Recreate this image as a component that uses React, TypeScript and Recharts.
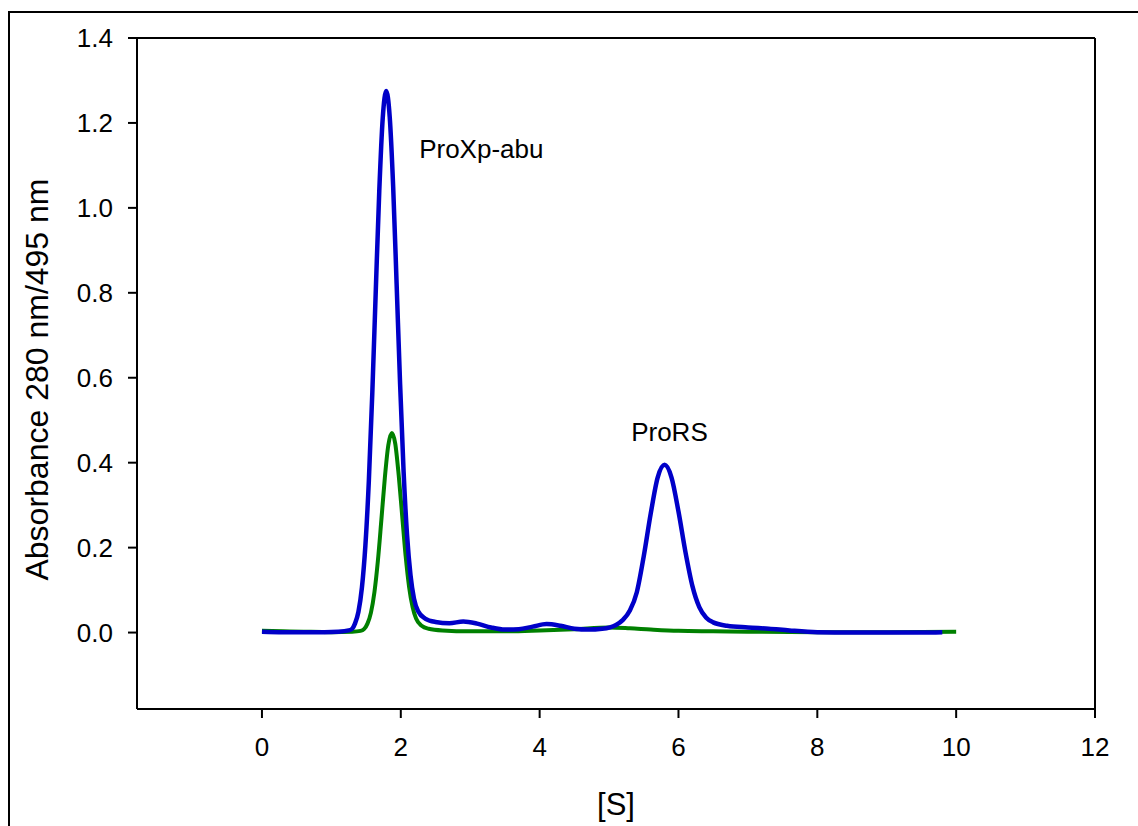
import { Label, Line, LineChart, ReferenceDot, ReferenceLine, XAxis, YAxis } from 'recharts';

// elution position [S] and absorbance
const blueS = [
  0, 0.3, 0.6, 0.9, 1.1, 1.25, 1.3, 1.34, 1.39, 1.44, 1.49, 1.54, 1.59, 1.64, 1.69, 1.74, 1.79,
  1.84, 1.89, 1.94, 1.99, 2.04, 2.09, 2.14, 2.19, 2.25, 2.35, 2.5, 2.7, 2.9, 3.1, 3.3, 3.5, 3.7,
  3.9, 4.1, 4.3, 4.5, 4.7, 4.9, 5.1, 5.2, 5.3, 5.4, 5.5, 5.6, 5.7, 5.8, 5.9, 6.0, 6.1, 6.2, 6.3,
  6.4, 6.5, 6.7, 7.0, 7.3, 7.6, 8.0, 8.5, 9.0, 9.5, 9.8,
];
const blueAbs = [
  0.002, 0.001, 0.001, 0.001, 0.002, 0.005, 0.009, 0.021, 0.049, 0.106, 0.205, 0.358, 0.566,
  0.807, 1.04, 1.212, 1.275, 1.215, 1.05, 0.82, 0.585, 0.38, 0.23, 0.135, 0.08, 0.05, 0.033,
  0.025, 0.022, 0.026, 0.021, 0.012, 0.007, 0.008, 0.014, 0.02, 0.016, 0.009, 0.007, 0.009,
  0.018, 0.03, 0.052, 0.095, 0.18, 0.28, 0.365, 0.395, 0.365, 0.285, 0.19, 0.11, 0.06, 0.035,
  0.024, 0.016, 0.012, 0.009, 0.005, 0.001, 0, 0, 0, 0.001,
];

const greenS = [
  0, 0.3, 0.6, 1.0, 1.3, 1.42, 1.47, 1.52, 1.57, 1.62, 1.67, 1.72, 1.77, 1.82, 1.87, 1.92, 1.97,
  2.02, 2.07, 2.12, 2.17, 2.22, 2.3, 2.4, 2.6, 3.0, 3.5, 4.0, 4.5, 5.0, 5.3, 5.6, 6.0, 6.5, 7.0,
  8.0, 9.0, 10.0,
];
const greenAbs = [
  0.004, 0.003, 0.002, 0.001, 0.002, 0.004, 0.008, 0.021, 0.047, 0.095, 0.169, 0.265, 0.364,
  0.441, 0.47, 0.445, 0.37, 0.275, 0.18, 0.107, 0.06, 0.033, 0.016, 0.009, 0.005, 0.003, 0.003,
  0.005, 0.008, 0.012, 0.01, 0.007, 0.004, 0.003, 0.002, 0.001, 0.001, 0.002,
];

const xTicks = [0, 2, 4, 6, 8, 10, 12];
const yTicks = [0, 0.2, 0.4, 0.6, 0.8, 1.0, 1.2, 1.4];

const peakNames = ['ProXp-abu', 'ProRS'];
const peakS = [3.16, 5.87];
const peakAbs = [1.139, 0.472];

const FONT = '"Liberation Sans", Arial, sans-serif';

const toPoints = (xs: number[], ys: number[]) => xs.map((x, i) => ({ x, y: ys[i] }));

export default function App() {
  const blue = toPoints(blueS, blueAbs);
  const green = toPoints(greenS, greenAbs);
  const tickStyle = { fontSize: 26, fontFamily: FONT, fill: '#000' };

  return (
    <div style={{ position: 'absolute', left: 0, top: 0, width: 1138, height: 826, background: '#fff', overflow: 'hidden' }}>
      {/* outer frame of the exported figure */}
      <div
        style={{
          position: 'absolute',
          left: 8,
          top: 11,
          width: 1200,
          height: 900,
          borderLeft: '2px solid #000',
          borderTop: '2px solid #000',
        }}
      />
      <div style={{ position: 'absolute', left: 0, top: 0 }}>
        <LineChart width={1138} height={826} margin={{ top: 38, right: 43, bottom: 0, left: 0 }}>
          <XAxis
            type="number"
            dataKey="x"
            domain={[-1.8, 12]}
            allowDataOverflow
            ticks={xTicks}
            tickSize={9}
            tickMargin={20}
            height={117}
            stroke="#000"
            strokeWidth={2}
            tick={tickStyle}
          >
            <Label
              content={({ viewBox }: any) => (
                <text
                  x={viewBox.x + viewBox.width / 2}
                  y={815}
                  textAnchor="middle"
                  fontSize={31}
                  fontFamily={FONT}
                  fill="#000"
                >
                  [S]
                </text>
              )}
            />
          </XAxis>
          <YAxis
            type="number"
            domain={[-0.18, 1.4]}
            allowDataOverflow
            ticks={yTicks}
            tickFormatter={(v: number) => v.toFixed(1)}
            tickSize={9}
            tickMargin={15}
            width={137}
            stroke="#000"
            strokeWidth={2}
            tick={tickStyle}
          >
            <Label
              content={({ viewBox }: any) => {
                const cx = 37;
                const cy = viewBox.y + viewBox.height / 2 + 6;
                return (
                  <text
                    x={cx}
                    y={cy}
                    transform={`rotate(-90 ${cx} ${cy})`}
                    textAnchor="middle"
                    dominantBaseline="central"
                    fontSize={32}
                    fontFamily={FONT}
                    fill="#000"
                  >
                    Absorbance 280 nm/495 nm
                  </text>
                );
              }}
            />
          </YAxis>
          <ReferenceLine y={1.4} stroke="#000" strokeWidth={2} ifOverflow="visible" />
          <ReferenceLine x={12} stroke="#000" strokeWidth={2} ifOverflow="visible" />
          <Line
            data={green}
            dataKey="y"
            type="monotone"
            stroke="#008000"
            strokeWidth={4}
            dot={false}
            activeDot={false}
            isAnimationActive={false}
          />
          <Line
            data={blue}
            dataKey="y"
            type="monotone"
            stroke="#0000C8"
            strokeWidth={4.5}
            dot={false}
            activeDot={false}
            isAnimationActive={false}
          />
          {peakNames.map((name, i) => (
            <ReferenceDot
              key={name}
              x={peakS[i]}
              y={peakAbs[i]}
              r={0}
              fill="none"
              stroke="none"
              label={{ value: name, position: 'center', fontSize: 26, fontFamily: FONT, fill: '#000' }}
            />
          ))}
        </LineChart>
      </div>
    </div>
  );
}
